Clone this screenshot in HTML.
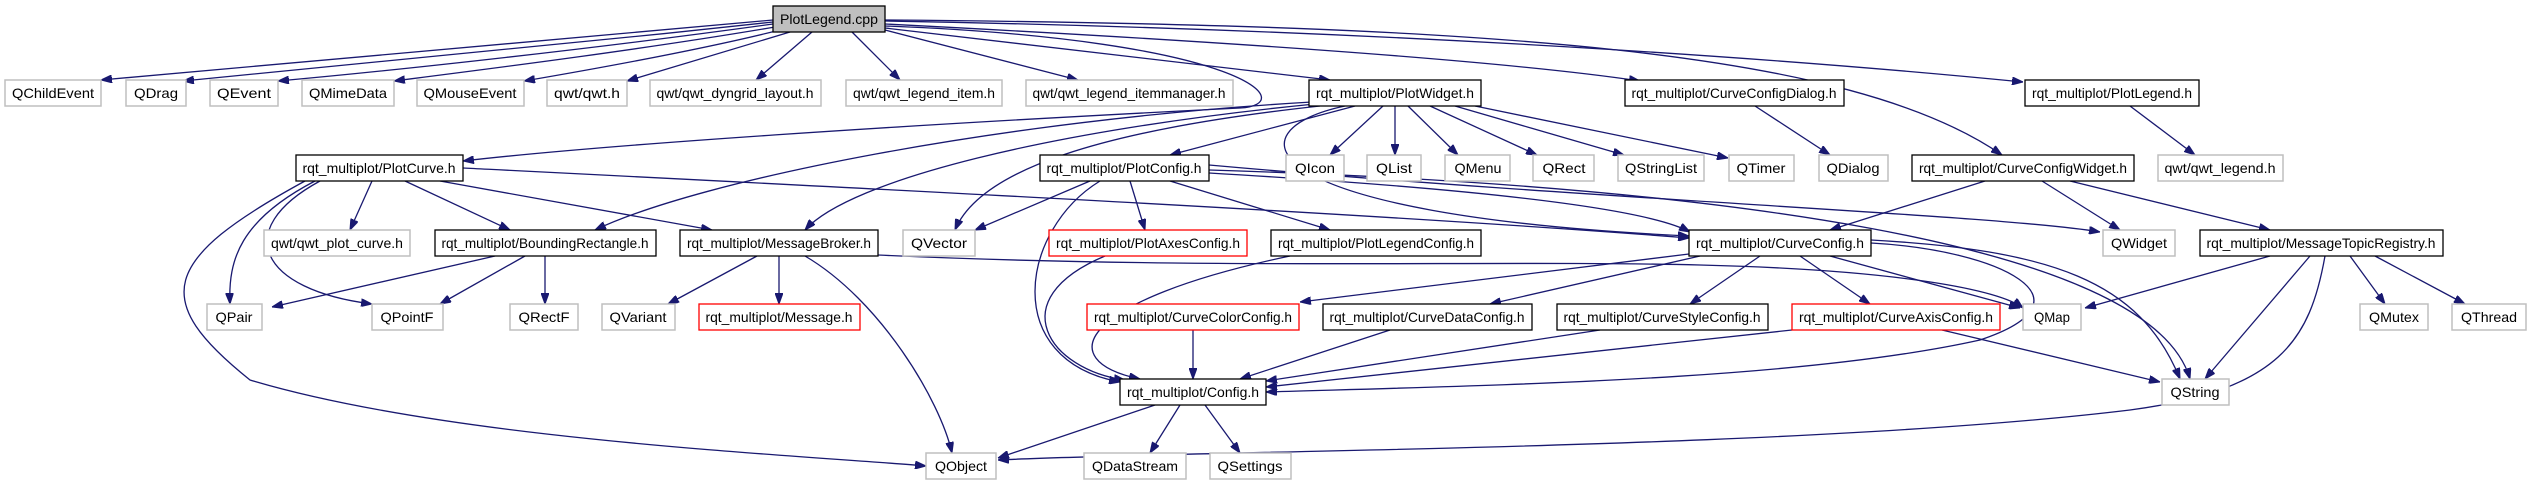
<!DOCTYPE html>
<html><head><meta charset="utf-8"><style>
html,body{margin:0;padding:0;background:#fff;}
svg{display:block;}
text{font-family:"Liberation Sans",sans-serif;font-size:14px;fill:#000;}
.e{fill:none;stroke:#191970;stroke-width:1.3;marker-end:url(#a);}
.g{fill:#fff;stroke:#bfbfbf;stroke-width:1.5;}
.b{fill:#fff;stroke:#000;stroke-width:1.3;}
.r{fill:#fff;stroke:#ff0000;stroke-width:1.3;}
.c{fill:#bfbfbf;stroke:#000;stroke-width:1.3;}
</style></head><body>
<svg width="2529" height="485" viewBox="0 0 2529 485" xmlns="http://www.w3.org/2000/svg">
<defs><marker id="a" markerUnits="userSpaceOnUse" markerWidth="11" markerHeight="8" refX="11" refY="4" orient="auto"><path d="M0,0 L11,4 L0,8 z" fill="#191970" stroke="#191970"/></marker></defs>
<g>
<path class="e" d="M773,20 C500,45 250,65 101,80"/>
<path class="e" d="M773,22 C560,45 330,68 183,81"/>
<path class="e" d="M773,24 C600,48 400,70 278,81"/>
<path class="e" d="M775,27 C640,50 480,70 394,81"/>
<path class="e" d="M780,30 C700,50 600,68 524,81"/>
<path class="e" d="M790,32 C730,50 670,68 627,81"/>
<path class="e" d="M812,32 L756,80"/>
<path class="e" d="M852,32 L900,80"/>
<path class="e" d="M885,30 L1078,80"/>
<path class="e" d="M885,28 L1330,80"/>
<path class="e" d="M885,24 C1200,40 1500,60 1640,81"/>
<path class="e" d="M885,21 C1400,30 1800,60 2023,82"/>
<path class="e" d="M885,20 C1500,25 1850,50 2002,155"/>
<path class="e" d="M885,26 C1250,40 1300,105 1240,108 C900,125 600,145 463,161"/>
<path class="e" d="M1320,106 C1100,130 980,170 955,230"/>
<path class="e" d="M1315,104 C1050,130 850,180 805,230"/>
<path class="e" d="M1312,102 C1000,120 700,180 595,230"/>
<path class="e" d="M1355,106 L1170,155"/>
<path class="e" d="M1383,106 L1330,155"/>
<path class="e" d="M1395,106 L1395,155"/>
<path class="e" d="M1408,106 L1458,155"/>
<path class="e" d="M1430,106 L1537,155"/>
<path class="e" d="M1455,106 L1624,155"/>
<path class="e" d="M1475,106 L1728,158"/>
<path class="e" d="M1345,106 C1230,130 1245,215 1689,236"/>
<path class="e" d="M1755,106 L1830,155"/>
<path class="e" d="M2130,106 L2195,155"/>
<path class="e" d="M1209,165 C1600,200 2000,215 2100,232"/>
<path class="e" d="M1209,170 C1700,185 2150,240 2190,379"/>
<path class="e" d="M1209,173 C1500,190 1650,210 1690,232"/>
<path class="e" d="M1090,181 L975,230"/>
<path class="e" d="M1130,181 L1145,230"/>
<path class="e" d="M1170,181 L1330,230"/>
<path class="e" d="M1100,181 C1020,230 1000,360 1120,382"/>
<path class="e" d="M372,181 L350,230"/>
<path class="e" d="M405,181 L510,230"/>
<path class="e" d="M440,181 L712,230"/>
<path class="e" d="M463,168 C900,190 1400,215 1689,238"/>
<path class="e" d="M315,181 C240,220 228,260 230,304"/>
<path class="e" d="M320,181 C230,230 260,290 372,304"/>
<path class="e" d="M305,181 C160,260 150,300 250,380 C450,440 800,455 926,466"/>
<path class="e" d="M495,256 L272,307"/>
<path class="e" d="M525,256 L440,304"/>
<path class="e" d="M545,256 L545,304"/>
<path class="e" d="M757,256 L668,304"/>
<path class="e" d="M779,256 L779,304"/>
<path class="e" d="M805,256 C880,300 940,400 952,453"/>
<path class="e" d="M878,255 C1200,270 1500,260 1700,265 C1900,270 2000,290 2023,308"/>
<path class="e" d="M1105,256 C1000,300 1050,370 1125,380"/>
<path class="e" d="M1290,256 C1080,300 1050,360 1140,379"/>
<path class="e" d="M1689,254 L1300,302"/>
<path class="e" d="M1700,256 L1490,304"/>
<path class="e" d="M1760,256 L1690,304"/>
<path class="e" d="M1800,256 L1870,304"/>
<path class="e" d="M1830,256 L2020,308"/>
<path class="e" d="M1871,240 C2050,250 2140,280 2180,379"/>
<path class="e" d="M1871,243 C2000,250 2100,300 1980,340 C1800,380 1500,385 1266,392"/>
<path class="e" d="M1193,330 L1193,379"/>
<path class="e" d="M1390,330 L1240,379"/>
<path class="e" d="M1600,330 L1266,381"/>
<path class="e" d="M1792,330 L1266,387"/>
<path class="e" d="M1942,330 L2160,382"/>
<path class="e" d="M2270,256 L2085,308"/>
<path class="e" d="M2310,256 L2205,379"/>
<path class="e" d="M2350,256 L2385,304"/>
<path class="e" d="M2375,256 L2465,304"/>
<path class="e" d="M2325,256 C2310,340 2280,390 2130,410 C1800,450 1200,450 998,460"/>
<path class="e" d="M1985,181 L1830,230"/>
<path class="e" d="M2042,181 L2120,230"/>
<path class="e" d="M2070,181 L2270,230"/>
<path class="e" d="M1155,405 L998,458"/>
<path class="e" d="M1180,405 L1150,453"/>
<path class="e" d="M1205,405 L1240,453"/>
</g>
<g>
<rect class="c" x="773" y="6" width="112" height="26"/><text x="829" y="24" text-anchor="middle" textLength="98" lengthAdjust="spacingAndGlyphs">PlotLegend.cpp</text>

<rect class="g" x="5" y="80" width="96" height="26"/><text x="53" y="98" text-anchor="middle" textLength="82" lengthAdjust="spacingAndGlyphs">QChildEvent</text>
<rect class="g" x="126" y="80" width="60" height="26"/><text x="156" y="98" text-anchor="middle" textLength="44" lengthAdjust="spacingAndGlyphs">QDrag</text>
<rect class="g" x="210" y="80" width="68" height="26"/><text x="244" y="98" text-anchor="middle" textLength="54" lengthAdjust="spacingAndGlyphs">QEvent</text>
<rect class="g" x="302" y="80" width="92" height="26"/><text x="348" y="98" text-anchor="middle" textLength="78" lengthAdjust="spacingAndGlyphs">QMimeData</text>
<rect class="g" x="417" y="80" width="107" height="26"/><text x="470" y="98" text-anchor="middle" textLength="93" lengthAdjust="spacingAndGlyphs">QMouseEvent</text>
<rect class="g" x="547" y="80" width="80" height="26"/><text x="587" y="98" text-anchor="middle" textLength="66" lengthAdjust="spacingAndGlyphs">qwt/qwt.h</text>
<rect class="g" x="650" y="80" width="171" height="26"/><text x="735" y="98" text-anchor="middle" textLength="157" lengthAdjust="spacingAndGlyphs">qwt/qwt_dyngrid_layout.h</text>
<rect class="g" x="846" y="80" width="156" height="26"/><text x="924" y="98" text-anchor="middle" textLength="142" lengthAdjust="spacingAndGlyphs">qwt/qwt_legend_item.h</text>
<rect class="g" x="1026" y="80" width="207" height="26"/><text x="1129" y="98" text-anchor="middle" textLength="193" lengthAdjust="spacingAndGlyphs">qwt/qwt_legend_itemmanager.h</text>
<rect class="b" x="1309" y="80" width="172" height="26"/><text x="1395" y="98" text-anchor="middle" textLength="158" lengthAdjust="spacingAndGlyphs">rqt_multiplot/PlotWidget.h</text>
<rect class="b" x="1625" y="80" width="219" height="26"/><text x="1734" y="98" text-anchor="middle" textLength="205" lengthAdjust="spacingAndGlyphs">rqt_multiplot/CurveConfigDialog.h</text>
<rect class="b" x="2025" y="80" width="174" height="26"/><text x="2112" y="98" text-anchor="middle" textLength="160" lengthAdjust="spacingAndGlyphs">rqt_multiplot/PlotLegend.h</text>

<rect class="b" x="296" y="155" width="167" height="26"/><text x="379" y="173" text-anchor="middle" textLength="153" lengthAdjust="spacingAndGlyphs">rqt_multiplot/PlotCurve.h</text>
<rect class="b" x="1040" y="155" width="169" height="26"/><text x="1124" y="173" text-anchor="middle" textLength="155" lengthAdjust="spacingAndGlyphs">rqt_multiplot/PlotConfig.h</text>
<rect class="g" x="1286" y="155" width="58" height="26"/><text x="1315" y="173" text-anchor="middle" textLength="40" lengthAdjust="spacingAndGlyphs">QIcon</text>
<rect class="g" x="1367" y="155" width="54" height="26"/><text x="1394" y="173" text-anchor="middle" textLength="36" lengthAdjust="spacingAndGlyphs">QList</text>
<rect class="g" x="1445" y="155" width="65" height="26"/><text x="1478" y="173" text-anchor="middle" textLength="47" lengthAdjust="spacingAndGlyphs">QMenu</text>
<rect class="g" x="1533" y="155" width="61" height="26"/><text x="1564" y="173" text-anchor="middle" textLength="43" lengthAdjust="spacingAndGlyphs">QRect</text>
<rect class="g" x="1618" y="155" width="86" height="26"/><text x="1661" y="173" text-anchor="middle" textLength="72" lengthAdjust="spacingAndGlyphs">QStringList</text>
<rect class="g" x="1729" y="155" width="65" height="26"/><text x="1761" y="173" text-anchor="middle" textLength="49" lengthAdjust="spacingAndGlyphs">QTimer</text>
<rect class="g" x="1819" y="155" width="69" height="26"/><text x="1853" y="173" text-anchor="middle" textLength="53" lengthAdjust="spacingAndGlyphs">QDialog</text>
<rect class="b" x="1912" y="155" width="222" height="26"/><text x="2023" y="173" text-anchor="middle" textLength="208" lengthAdjust="spacingAndGlyphs">rqt_multiplot/CurveConfigWidget.h</text>
<rect class="g" x="2158" y="155" width="125" height="26"/><text x="2220" y="173" text-anchor="middle" textLength="111" lengthAdjust="spacingAndGlyphs">qwt/qwt_legend.h</text>

<rect class="g" x="264" y="230" width="146" height="26"/><text x="337" y="248" text-anchor="middle" textLength="132" lengthAdjust="spacingAndGlyphs">qwt/qwt_plot_curve.h</text>
<rect class="b" x="435" y="230" width="221" height="26"/><text x="545" y="248" text-anchor="middle" textLength="207" lengthAdjust="spacingAndGlyphs">rqt_multiplot/BoundingRectangle.h</text>
<rect class="b" x="680" y="230" width="198" height="26"/><text x="779" y="248" text-anchor="middle" textLength="184" lengthAdjust="spacingAndGlyphs">rqt_multiplot/MessageBroker.h</text>
<rect class="g" x="903" y="230" width="72" height="26"/><text x="939" y="248" text-anchor="middle" textLength="56" lengthAdjust="spacingAndGlyphs">QVector</text>
<rect class="r" x="1049" y="230" width="198" height="26"/><text x="1148" y="248" text-anchor="middle" textLength="184" lengthAdjust="spacingAndGlyphs">rqt_multiplot/PlotAxesConfig.h</text>
<rect class="b" x="1271" y="230" width="210" height="26"/><text x="1376" y="248" text-anchor="middle" textLength="196" lengthAdjust="spacingAndGlyphs">rqt_multiplot/PlotLegendConfig.h</text>
<rect class="b" x="1689" y="230" width="182" height="26"/><text x="1780" y="248" text-anchor="middle" textLength="168" lengthAdjust="spacingAndGlyphs">rqt_multiplot/CurveConfig.h</text>
<rect class="g" x="2103" y="230" width="72" height="26"/><text x="2139" y="248" text-anchor="middle" textLength="56" lengthAdjust="spacingAndGlyphs">QWidget</text>
<rect class="b" x="2200" y="230" width="243" height="26"/><text x="2321" y="248" text-anchor="middle" textLength="229" lengthAdjust="spacingAndGlyphs">rqt_multiplot/MessageTopicRegistry.h</text>

<rect class="g" x="207" y="304" width="55" height="26"/><text x="234" y="322" text-anchor="middle" textLength="37" lengthAdjust="spacingAndGlyphs">QPair</text>
<rect class="g" x="372" y="304" width="71" height="26"/><text x="407" y="322" text-anchor="middle" textLength="53" lengthAdjust="spacingAndGlyphs">QPointF</text>
<rect class="g" x="510" y="304" width="68" height="26"/><text x="544" y="322" text-anchor="middle" textLength="51" lengthAdjust="spacingAndGlyphs">QRectF</text>
<rect class="g" x="602" y="304" width="73" height="26"/><text x="638" y="322" text-anchor="middle" textLength="57" lengthAdjust="spacingAndGlyphs">QVariant</text>
<rect class="r" x="699" y="304" width="161" height="26"/><text x="779" y="322" text-anchor="middle" textLength="147" lengthAdjust="spacingAndGlyphs">rqt_multiplot/Message.h</text>
<rect class="r" x="1087" y="304" width="212" height="26"/><text x="1193" y="322" text-anchor="middle" textLength="198" lengthAdjust="spacingAndGlyphs">rqt_multiplot/CurveColorConfig.h</text>
<rect class="b" x="1323" y="304" width="209" height="26"/><text x="1427" y="322" text-anchor="middle" textLength="195" lengthAdjust="spacingAndGlyphs">rqt_multiplot/CurveDataConfig.h</text>
<rect class="b" x="1557" y="304" width="211" height="26"/><text x="1662" y="322" text-anchor="middle" textLength="197" lengthAdjust="spacingAndGlyphs">rqt_multiplot/CurveStyleConfig.h</text>
<rect class="r" x="1792" y="304" width="208" height="26"/><text x="1896" y="322" text-anchor="middle" textLength="194" lengthAdjust="spacingAndGlyphs">rqt_multiplot/CurveAxisConfig.h</text>
<rect class="g" x="2023" y="304" width="58" height="26"/><text x="2052" y="322" text-anchor="middle" textLength="36" lengthAdjust="spacingAndGlyphs">QMap</text>
<rect class="g" x="2360" y="304" width="68" height="26"/><text x="2394" y="322" text-anchor="middle" textLength="50" lengthAdjust="spacingAndGlyphs">QMutex</text>
<rect class="g" x="2452" y="304" width="74" height="26"/><text x="2489" y="322" text-anchor="middle" textLength="56" lengthAdjust="spacingAndGlyphs">QThread</text>

<rect class="b" x="1120" y="379" width="146" height="26"/><text x="1193" y="397" text-anchor="middle" textLength="132" lengthAdjust="spacingAndGlyphs">rqt_multiplot/Config.h</text>
<rect class="g" x="2162" y="379" width="67" height="26"/><text x="2195" y="397" text-anchor="middle" textLength="49" lengthAdjust="spacingAndGlyphs">QString</text>

<rect class="g" x="926" y="453" width="70" height="26"/><text x="961" y="471" text-anchor="middle" textLength="52" lengthAdjust="spacingAndGlyphs">QObject</text>
<rect class="g" x="1084" y="453" width="102" height="26"/><text x="1135" y="471" text-anchor="middle" textLength="86" lengthAdjust="spacingAndGlyphs">QDataStream</text>
<rect class="g" x="1210" y="453" width="81" height="26"/><text x="1250" y="471" text-anchor="middle" textLength="65" lengthAdjust="spacingAndGlyphs">QSettings</text>
</g>
</svg>
</body></html>
